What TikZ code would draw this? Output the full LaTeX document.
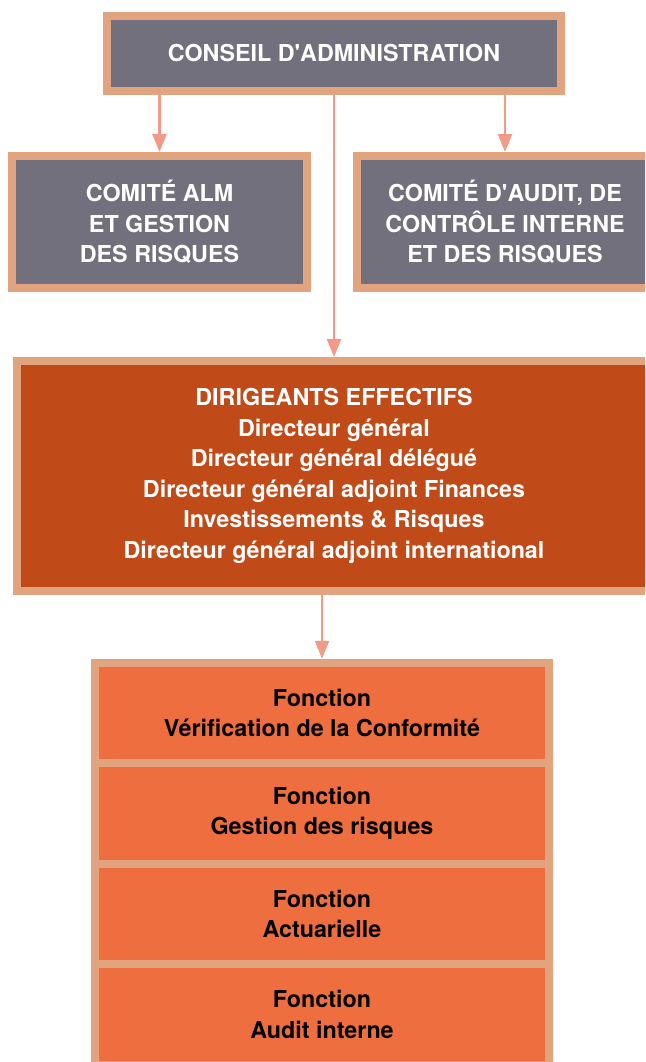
\documentclass[tikz,border=0pt]{standalone}
\usepackage{fontspec}
\setmainfont{TeX Gyre Heros}
\usetikzlibrary{arrows.meta, positioning}
\definecolor{frame}{HTML}{E1A47F}
\definecolor{slate}{HTML}{71707C}
\definecolor{rust}{HTML}{C04A18}
\definecolor{coral}{HTML}{EE6E40}
\definecolor{salmon}{HTML}{F29A88}
\tikzset{
  box/.style={rectangle, draw=frame, line width=8pt, align=center, inner sep=0pt,
    font=\fontsize{23.3}{30.6}\selectfont\bfseries, text=white},
  boxGrey/.style={box, fill=slate},
  boxRust/.style={box, fill=rust},
  boxFn/.style={box, fill=coral, text=black, minimum width=454pt, minimum height=100.5pt},
  arrow/.style={-{Triangle[length=18pt, width=14pt]}, line width=2.5pt, salmon},
}
\begin{document}
\begin{tikzpicture}[x=1pt, y=-1pt, node distance=-8pt]
\useasboundingbox (0,0) rectangle (645,1062);
\clip (0,0) rectangle (645,1062);
% board and committees
\node[boxGrey, minimum width=454pt, minimum height=75pt] (ca) at (334,53.5) {CONSEIL D\textquotesingle ADMINISTRATION};
\node[boxGrey, minimum width=295pt, minimum height=132pt] (alm) at (159.5,222) {COMITÉ ALM\\ET GESTION\\DES RISQUES};
\node[boxGrey, minimum width=296pt, minimum height=132pt] (audit) at (505,222) {COMITÉ D\textquotesingle AUDIT, DE\\CONTRÔLE INTERNE\\ET DES RISQUES};
% executives
\node[boxRust, minimum width=634pt, minimum height=230pt] (de) at (334,476) {DIRIGEANTS EFFECTIFS\\Directeur général\\Directeur général délégué\\Directeur général adjoint Finances\\Investissements \& Risques\\Directeur général adjoint international};
% key functions
\node[boxFn] (f1) at (322,713) {Fonction\\Vérification de la Conformité};
\node[boxFn, below=of f1] (f2) {Fonction\\Gestion des risques};
\node[boxFn, below=of f2] (f3) {Fonction\\Actuarielle};
\node[boxFn, below=of f3] (f4) {Fonction\\Audit interne};
\draw[arrow] (ca.south -| alm) -- (alm.north);
\draw[arrow] (ca.south -| audit) -- (audit.north);
\draw[arrow] (ca.south) -- (de.north);
\draw[arrow] (de.south -| f1) -- (f1.north);
\end{tikzpicture}
\end{document}
